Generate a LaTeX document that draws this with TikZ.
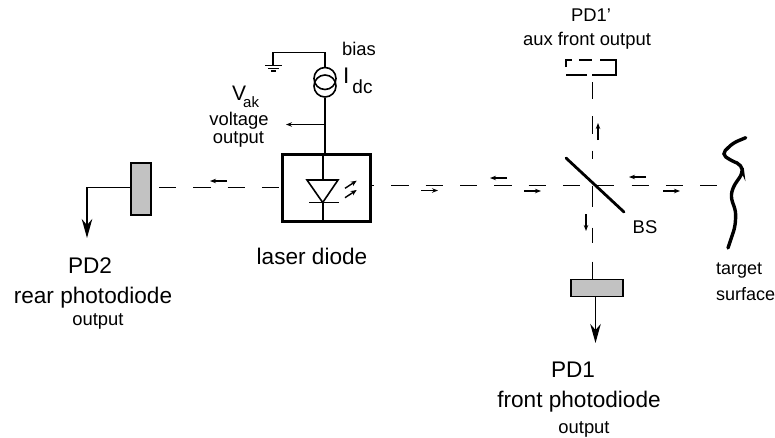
\documentclass[tikz,border=0pt]{standalone}
\usepackage{fontspec}
\setmainfont{Liberation Sans}
\usetikzlibrary{arrows.meta}
\definecolor{detfill}{gray}{0.76}
\tikzset{
 x=1pt,y=-1pt,
 wire/.style={line width=1.6pt,black},
 beam/.style={line width=1.6pt,black,dash pattern=on 17.2pt off 17.1pt},
 small/.style={line width=1.4pt,-{Stealth[length=6pt,width=4.5pt]}},
 outarrow/.style={line width=1.6pt,-{Stealth[length=19pt,width=10.5pt,inset=6pt]}},
 det/.style={draw,line width=1.8pt,fill=detfill,inner sep=0pt,minimum width=#1},
 lab/.style={font=\fontsize{22.6}{24}\selectfont,inner sep=0pt,anchor=center},
 lab3/.style={font=\fontsize{18.4}{20}\selectfont,inner sep=0pt,anchor=center},
}
\begin{document}
\begin{tikzpicture}
\useasboundingbox (0,0) rectangle (775,437);
% detectors
\node[det=19.5pt,minimum height=52pt] (pd2) at (141,189) {};
\node[det=52pt,minimum height=17pt] (pd1) at (596.7,288) {};
\node[minimum width=50pt,minimum height=15pt,inner sep=0pt] (pd1a) at (591,67.5) {};
\draw[wire] (566,67) -- (566,60) -- (572,60) (579,60) -- (592,60) (600,60) -- (616,60) -- (616,75) -- (592,75) (587,75) -- (566,75);
% laser
\node[draw,line width=3.2pt,minimum width=88pt,minimum height=67pt,inner sep=0pt] (ld) at (326.5,188) {};
% beams
\coordinate (bsc) at (592.5,185.5);
\coordinate (tgt) at (731,185.5);
\coordinate (p2in) at (159,187.5);
\draw[beam] (p2in) -- (ld.west |- p2in);
\draw[beam,dash phase=15pt] (ld.east |- bsc) -- (tgt);
\coordinate (vt) at (592.5,82);
\coordinate (vm) at (592.5,159);
\draw[beam] (vt) -- (vm);
\draw[line width=1.6pt,dash pattern=on 21pt off 21pt on 15pt off 19pt on 17pt off 100pt] (bsc) -- (pd1.north -| bsc);
% small arrows
\draw[small] (227,181) -- (210,181);
\draw[small] (421,190.5) -- (438,190.5);
\draw[small] (507,178) -- (490,178);
\draw[small] (524,191) -- (541,191);
\draw[small] (646,177) -- (629,177);
\draw[small] (663,191) -- (680,191);
\draw[small] (598,140) -- (598,123);
\draw[small] (586,214) -- (586,231);
% outputs
\coordinate (pd2o) at (87,238);
\draw[outarrow] (pd2.west |- p2in) -| (pd2o);
\coordinate (pd1o) at (595.5,343);
\draw[outarrow] (pd1.south -| pd1o) -- (pd1o);
% BS
\coordinate (bsa) at (566,158);
\coordinate (bsb) at (624,212);
\draw[line width=2.8pt,line cap=round] (bsa) -- (bsb);
% target
\draw[line width=3.4pt,line cap=round,rounded corners=5pt] (745.7,137.7) -- (733,143) -- (721.7,154) -- (730,160) -- (741.7,165) -- (742.7,173) -- (733,187) -- (730.7,197) -- (736,212) -- (735,227) -- (728,248);
% source
\node[draw,circle,line width=1.6pt,minimum size=22pt,inner sep=0pt] (s1) at (325,78.5) {};
\node[draw,circle,line width=1.6pt,minimum size=22pt,inner sep=0pt] (s2) at (325,86) {};
\coordinate (gnd) at (273,65.5);
\draw[wire] (gnd) |- (325,52.5) -- (s1.north);
\draw[line width=1.6pt] (265,65.5) -- (282,65.5) (268,68.5) -- (279,68.5);
\draw[line width=1.4pt] (271,71) -- (276,71);
\draw[wire] (s2.south) -- (ld.north -| s2);
\coordinate (vout) at (286,124.5);
\draw[small] (325,124.5) -- (vout);
% diode
\coordinate (dtop) at (322.7,155);
\coordinate (dbot) at (322.7,221);
\draw[wire] (dtop) -- (dbot);
\draw[wire,fill=white] (307,180) -- (338,180) -- (322.7,202.5) -- cycle;
\draw[wire] (309,202.5) -- (339,202.5);
\draw[line width=1.4pt,-{Stealth[length=6pt,width=5pt]}] (345,188.3) -- (356.7,180.7);
\draw[line width=1.4pt,-{Stealth[length=6pt,width=5pt]}] (345,197.7) -- (356.7,190);
% labels
\node[lab3] (bias) at (359,49) {bias};
\node[lab,anchor=base west] (idc) at (343,83.5) {I\kern3pt\raisebox{-10pt}{\fontsize{19}{20}\selectfont dc}};
\node[font=\fontsize{21}{22}\selectfont,inner sep=0pt,anchor=base west] (vak) at (232,100.5) {V\kern-3pt\raisebox{-7pt}{\fontsize{15}{16}\selectfont ak}};
\node[lab3] (volt) at (239,120.5) {voltage};
\node[lab3] (outv) at (238.5,139.5) {output};
\node[lab] (ldl) at (312,256) {laser diode};
\node[lab] (pd2l) at (90,266) {PD2};
\node[lab] (pd2m) at (93,298) {rear photodiode};
\node[lab3] (pd2s) at (98,321.5) {output};
\node[lab] (pd1l) at (573,370) {PD1};
\node[lab] (pd1m) at (579,402) {front photodiode};
\node[lab3] (pd1s) at (584,429.5) {output};
\node[lab3] (pd1al) at (591,15) {PD1'};
\node[lab3] (pd1am) at (587,40.5) {aux front output};
\node[lab3] (bsl) at (645,227) {BS};
\node[lab3,font=\fontsize{18}{20}\selectfont,anchor=west] (t1) at (716,270.5) {target};
\node[lab3,font=\fontsize{18}{20}\selectfont,anchor=west] (t2) at (716,294) {surface};
\end{tikzpicture}
\end{document}
